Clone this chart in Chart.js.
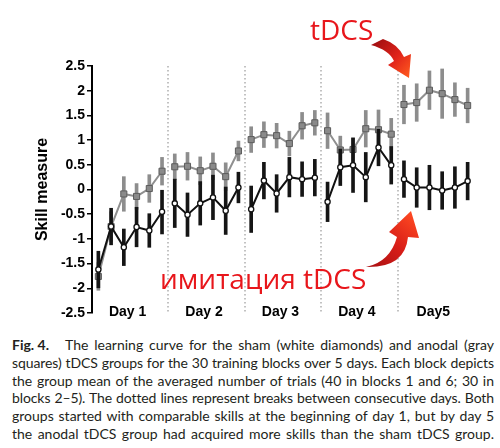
<!DOCTYPE html>
<html>
<head>
<meta charset="utf-8">
<script src="https://cdn.jsdelivr.net/npm/chart.js@4"></script>
<style>
  body{margin:0;background:#fff;width:500px;height:448px;position:relative;overflow:hidden;font-family:Lato,sans-serif}
  #wrap{position:absolute;left:0;top:0;width:500px;height:325px}
  .red{position:absolute;color:#e8161b;font-family:"Open Sans",sans-serif;font-size:28px;line-height:28px;white-space:nowrap}
  #cap{position:absolute;left:12px;top:336px;width:482px;font-size:14px;line-height:17.8px;color:#231f20}
  #cap div{text-align:justify;text-align-last:justify}
  #cap b{display:inline-block;width:53px;text-align:left;text-align-last:left}
</style>
</head>
<body>
<div id="wrap"><canvas id="chart"></canvas></div>
<div class="red" style="left:310px;top:15px">tDCS</div>
<div class="red" style="left:160px;top:264px">имитация tDCS</div>
<div id="cap">
  <div><b>Fig. 4.</b>The learning curve for the sham (white diamonds) and anodal (gray</div>
  <div>squares) tDCS groups for the 30 training blocks over 5 days. Each block depicts</div>
  <div>the group mean of the averaged number of trials (40 in blocks 1 and 6; 30 in</div>
  <div>blocks 2–5). The dotted lines represent breaks between consecutive days. Both</div>
  <div>groups started with comparable skills at the beginning of day 1, but by day 5</div>
  <div>the anodal tDCS group had acquired more skills than the sham tDCS group.</div>
</div>
<script>
// values, 6 blocks per day
const dayLabels = ['Day 1','Day 2','Day 3','Day 4','Day5'];
const blocksPerDay = 6;

const anodalMean = [-1.76,-0.75,-0.09,-0.14,0.02,0.37,  0.46,0.47,0.38,0.47,0.26,0.78,
                    1.01,1.11,1.09,0.93,1.29,1.35,  1.19,0.80,0.81,1.23,1.21,1.12,
                    1.72,1.76,2.01,1.94,1.82,1.70];
const anodalErr  = [0.28,0.30,0.35,0.26,0.28,0.28,  0.26,0.28,0.28,0.27,0.28,0.20,
                    0.26,0.26,0.25,0.25,0.27,0.25,  0.36,0.28,0.24,0.37,0.40,0.32,
                    0.39,0.38,0.39,0.50,0.34,0.35];
const shamMean   = [-1.62,-0.75,-1.17,-0.76,-0.83,-0.45,  -0.28,-0.51,-0.28,-0.16,-0.43,0.04,
                    -0.40,0.18,-0.08,0.25,0.21,0.24,  -0.25,0.45,0.49,0.25,0.85,0.49,
                    0.21,0.04,0.04,-0.02,0.04,0.17];
const shamErr    = [0.37,0.37,0.37,0.40,0.34,0.45,  0.49,0.44,0.44,0.45,0.48,0.31,
                    0.47,0.37,0.38,0.40,0.35,0.37,  0.40,0.37,0.55,0.50,0.37,0.38,
                    0.37,0.40,0.45,0.38,0.42,0.38];

const pts = m => m.map((y,i)=>({x:i, y}));
const errs = (m,e) => m.map((y,i)=>({x:i, y:[y-e[i], y+e[i]]}));
const day = v => Math.floor(v/blocksPerDay);
// no line across a day break
const breakSeg = { borderColor: c => day(c.p0.parsed.x)!==day(c.p1.parsed.x) ? 'rgba(0,0,0,0)' : undefined };

const nDays = dayLabels.length;
const sepTicks = dayLabels.slice(1).map((_,d)=>({value:(d+1)*blocksPerDay-0.5}));
const dayTicks = dayLabels.map((_,d)=>({value:d*blocksPerDay+(blocksPerDay-1)/2 - 0.2}));

const arrows = {
  id:'arrows',
  afterDraw(chart){
    const ctx = chart.ctx;
    ctx.save();
    // top arrow, pointing to the anodal day 5
    let g = ctx.createLinearGradient(372,42,410,76);
    g.addColorStop(0,'#9c0e10'); g.addColorStop(0.55,'#e0231a'); g.addColorStop(1,'#ff5a1e');
    ctx.fillStyle = g;
    ctx.beginPath();
    ctx.moveTo(371,45);
    ctx.lineTo(383,39);
    ctx.quadraticCurveTo(398,44,404,57);
    ctx.lineTo(411,54);
    ctx.lineTo(409,78);
    ctx.lineTo(388,65);
    ctx.lineTo(394,61);
    ctx.quadraticCurveTo(389,50,371,45);
    ctx.closePath();
    ctx.fill();
    // bottom arrow, pointing to the sham day 5
    g = ctx.createLinearGradient(366,267,412,212);
    g.addColorStop(0,'#a80f12'); g.addColorStop(0.5,'#d81e18'); g.addColorStop(1,'#ff4a22');
    ctx.fillStyle = g;
    ctx.beginPath();
    ctx.moveTo(366,267);
    ctx.quadraticCurveTo(390,262,397,237);
    ctx.lineTo(389,232);
    ctx.lineTo(411,211);
    ctx.lineTo(419,238);
    ctx.lineTo(408,237);
    ctx.quadraticCurveTo(405,268,366,267);
    ctx.closePath();
    ctx.fill();
    ctx.restore();
  }
};

const tickFont = {family:'"Liberation Sans", Arial, sans-serif', size:14, weight:'bold'};
const xMin = -0.5, xMax = nDays*blocksPerDay-0.5;

new Chart(document.getElementById('chart'), {
  type:'line',
  data:{
    datasets:[
      {type:'bar', data:errs(anodalMean,anodalErr), backgroundColor:'#8d8d8d', barThickness:3, grouped:false, order:4},
      {data:pts(anodalMean), borderColor:'#8f8f8f', borderWidth:2, pointStyle:'rect', pointRadius:4.3,
       pointBackgroundColor:'#8a8a8a', pointBorderColor:'#5c5c5c', pointBorderWidth:1, segment:breakSeg, order:3},
      {type:'bar', data:errs(shamMean,shamErr), backgroundColor:'#151515', barThickness:3, grouped:false, order:2},
      {data:pts(shamMean), borderColor:'#111', borderWidth:2, pointStyle:'circle', pointRadius:2.6,
       pointBackgroundColor:'#fff', pointBorderColor:'#111', pointBorderWidth:1.3, segment:breakSeg, order:1}
    ]
  },
  options:{
    responsive:true, maintainAspectRatio:false, animation:false,
    layout:{ padding:{left:33, top:66, right:26, bottom:12} },
    plugins:{ legend:{display:false}, tooltip:{enabled:false} },
    scales:{
      x:{ type:'linear', min:xMin, max:xMax, offset:false,
          afterBuildTicks:s=>{ s.ticks = sepTicks; },
          afterFit:s=>{ s.height = 0; },
          ticks:{display:false},
          grid:{color:'#c2c2c2', lineWidth:2, drawTicks:false, offset:false},
          border:{display:false, dash:[1.5,2.5]} },
      x2:{ type:'linear', position:{y:-2.31}, min:xMin, max:xMax, offset:false,
          afterBuildTicks:s=>{ s.ticks = dayTicks; },
          ticks:{ callback:(v,i)=>dayLabels[i], color:'#000', font:tickFont, padding:0, maxRotation:0, autoSkip:false },
          grid:{display:false, drawTicks:false}, border:{display:false} },
      y:{ min:-2.5, max:2.5,
          afterFit:s=>{ s.width = 59; },
          ticks:{ stepSize:0.5, color:'#000', font:tickFont, padding:2, callback:v=>String(v) },
          grid:{ drawOnChartArea:false, drawTicks:true, tickLength:5, color:'#000', lineWidth:1.5 },
          border:{ display:true, color:'#000', width:2 },
          title:{ display:true, text:'Skill measure', color:'#000', padding:0,
                  font:{family:'"Liberation Sans", Arial, sans-serif', size:16, weight:'bold'} } }
    }
  },
  plugins:[arrows]
});

// keep every caption line on one row
document.fonts.ready.then(()=>{
  document.querySelectorAll('#cap div').forEach(d=>{
    let ls = 0;
    while (d.offsetHeight > 20 && ls > -1.2){ ls -= 0.1; d.style.letterSpacing = ls.toFixed(1)+'px'; }
  });
});
</script>
</body>
</html>
